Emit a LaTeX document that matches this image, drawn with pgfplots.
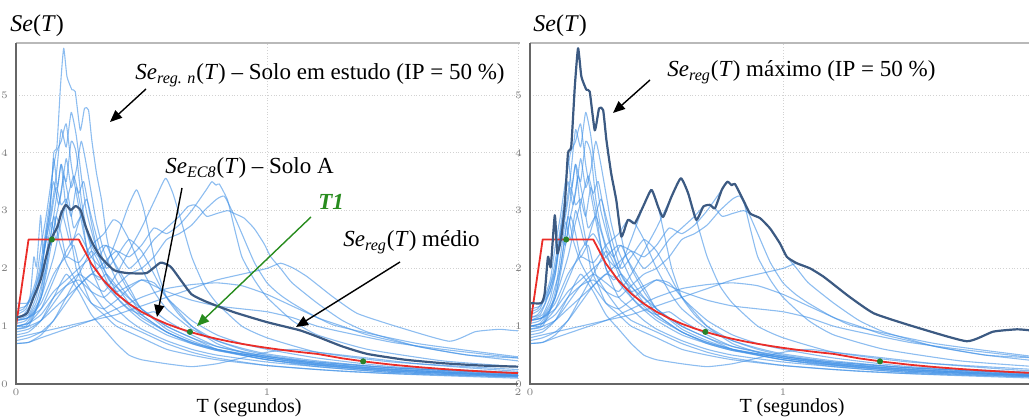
\documentclass[border=0pt]{standalone}
\usepackage{fontspec}
\setmainfont{Liberation Serif}
\usepackage{pgfplots}
\pgfplotsset{compat=1.18}
\usetikzlibrary{arrows.meta}

\definecolor{lb}{RGB}{65,145,230}
\definecolor{db}{RGB}{60,90,130}
\definecolor{rd}{RGB}{235,45,40}
\definecolor{gr}{RGB}{40,130,40}
\definecolor{tg}{RGB}{40,140,30}

\pgfplotsset{
  rec/.style={lb, opacity=0.6, line width=0.55pt, line join=round, smooth, tension=0.3},
  panel/.style={scale only axis, height=170.5pt, xmin=0, ymin=0, ymax=5.9,
    xtick={0,1,2}, ytick={0,1,2,3,4,5},
    grid=major, grid style={gray!35, densely dotted, line width=0.4pt},
    axis line style={draw=none}, tick style={draw=none},
    tick label style={font=\fontsize{3.2}{3.5}\selectfont, text=gray},
    yticklabel style={xshift=-0.5pt}, xticklabel style={yshift=1.2pt},
    clip mode=individual, anchor=south west}
}

\newcommand{\records}{%
\addplot[rec] coordinates {(0,1.40) (0.045,1.40) (0.058,1.57) (0.071,2.20) (0.082,2.03) (0.098,2.92) (0.108,2.26) (0.124,2.55) (0.14,2.4) (0.16,2.9) (0.18,2.6) (0.2,2.2) (0.23,2.4) (0.26,1.9) (0.3,1.6) (0.35,1.3) (0.4,1.1) (0.5,0.9) (0.6,0.7) (0.7,0.55) (0.8,0.45) (1.0,0.32) (1.2,0.25) (1.5,0.18) (2.0,0.12)};
\addplot[rec] coordinates {(0,1.1) (0.05,1.2) (0.08,1.5) (0.1,1.9) (0.12,2.6) (0.137,3.07) (0.15,3.99) (0.163,4.11) (0.177,5.14) (0.19,5.81) (0.203,5.32) (0.223,5.09) (0.236,5.06) (0.256,4.39) (0.273,4.77) (0.289,4.74) (0.302,4.22) (0.321,3.64) (0.341,3.18) (0.361,2.55) (0.38,2.2) (0.42,1.9) (0.46,1.6) (0.5,1.3) (0.6,1.0) (0.7,0.8) (0.8,0.6) (0.9,0.5) (1.0,0.42) (1.2,0.3) (1.5,0.2) (2.0,0.13)};
\addplot[rec] coordinates {(0,1.0) (0.05,1.05) (0.1,1.3) (0.15,1.8) (0.2,2.3) (0.25,2.6) (0.3,2.2) (0.35,2.0) (0.4,2.5) (0.447,3.07) (0.48,3.36) (0.506,3.07) (0.53,2.6) (0.56,2.0) (0.6,1.5) (0.65,1.2) (0.7,1.0) (0.8,0.75) (0.9,0.6) (1.0,0.5) (1.2,0.38) (1.5,0.28) (2.0,0.18)};
\addplot[rec] coordinates {(0,0.9) (0.05,0.95) (0.1,1.1) (0.15,1.4) (0.2,1.7) (0.25,1.9) (0.3,1.75) (0.35,1.6) (0.4,1.9) (0.45,2.3) (0.5,2.7) (0.559,3.24) (0.596,3.56) (0.625,3.30) (0.657,2.84) (0.7,2.2) (0.75,1.7) (0.8,1.4) (0.9,1.0) (1.0,0.8) (1.2,0.55) (1.5,0.38) (2.0,0.25)};
\addplot[rec] coordinates {(0,0.95) (0.05,1.0) (0.1,1.1) (0.15,1.3) (0.2,1.5) (0.25,1.7) (0.3,1.9) (0.35,2.1) (0.4,2.3) (0.45,2.2) (0.5,2.4) (0.55,2.7) (0.6,2.6) (0.65,2.75) (0.7,3.0) (0.758,3.36) (0.78,3.50) (0.797,3.44) (0.81,3.46) (0.843,3.18) (0.87,2.7) (0.9,2.2) (0.95,1.8) (1.0,1.5) (1.1,1.1) (1.2,0.85) (1.4,0.6) (1.7,0.4) (2.0,0.3)};
\addplot[rec] coordinates {(0,1.1) (0.05,1.15) (0.1,1.3) (0.15,1.6) (0.2,1.8) (0.25,2.0) (0.3,2.2) (0.35,2.4) (0.4,2.3) (0.45,2.0) (0.5,2.2) (0.55,2.5) (0.6,2.7) (0.65,2.9) (0.685,3.07) (0.711,3.10) (0.731,3.04) (0.76,2.9) (0.8,2.95) (0.843,3.0) (0.87,2.95) (0.909,2.87) (0.949,2.69) (0.988,2.43) (1.015,2.20) (1.054,2.0) (1.1,1.75) (1.2,1.4) (1.3,1.1) (1.4,0.9) (1.6,0.65) (1.8,0.5) (2.0,0.45)};
\addplot[rec] coordinates {(0,0.8) (0.05,0.85) (0.1,0.9) (0.2,1.0) (0.3,1.1) (0.4,1.2) (0.5,1.35) (0.6,1.5) (0.7,1.65) (0.8,1.8) (0.9,1.9) (1.0,2.0) (1.054,2.09) (1.107,2.0) (1.159,1.86) (1.212,1.68) (1.265,1.5) (1.36,1.22) (1.52,0.99) (1.726,0.74) (1.83,0.905) (1.924,0.946) (1.97,0.93) (2.0,0.92)};
\addplot[rec] coordinates {(0,1.0) (0.05,1.05) (0.1,1.2) (0.15,1.5) (0.2,1.7) (0.25,1.8) (0.3,1.6) (0.35,1.5) (0.4,1.7) (0.45,1.9) (0.5,2.0) (0.55,2.2) (0.6,2.5) (0.65,2.6) (0.7,2.75) (0.75,3.0) (0.8,3.2) (0.83,3.25) (0.86,3.0) (0.9,2.6) (0.95,2.1) (1.0,1.75) (1.05,1.55) (1.1,1.4) (1.2,1.15) (1.3,1.0) (1.4,0.85) (1.6,0.65) (1.8,0.5) (2.0,0.4)};
\addplot[rec] coordinates {(0,0.7) (0.05,0.72) (0.1,0.8) (0.2,0.95) (0.3,1.1) (0.4,1.3) (0.5,1.5) (0.6,1.65) (0.7,1.72) (0.8,1.75) (0.9,1.7) (1.0,1.55) (1.1,1.35) (1.2,1.15) (1.265,1.02) (1.4,0.88) (1.6,0.7) (1.8,0.58) (2.0,0.47)};
\addplot[rec] coordinates {(0,0.85) (0.05,0.9) (0.1,1.1) (0.15,1.5) (0.2,1.9) (0.25,1.6) (0.3,1.2) (0.35,0.95) (0.4,0.7) (0.45,0.5) (0.5,0.42) (0.6,0.35) (0.7,0.3) (0.8,0.35) (0.9,0.45) (1.0,0.55) (1.1,0.6) (1.2,0.55) (1.4,0.45) (1.6,0.35) (1.8,0.28) (2.0,0.22)};
\addplot[rec] coordinates {(0,1.2) (0.04,1.3) (0.08,1.8) (0.1,2.4) (0.12,2.9) (0.14,3.5) (0.16,4.0) (0.18,4.2) (0.2,4.5) (0.22,3.8) (0.24,3.3) (0.27,2.6) (0.3,2.0) (0.35,1.5) (0.4,1.3) (0.45,1.1) (0.5,0.95) (0.6,0.75) (0.7,0.6) (0.8,0.5) (1.0,0.38) (1.2,0.3) (1.5,0.2) (2.0,0.12)};
\addplot[rec] coordinates {(0,1.05) (0.04,1.1) (0.08,1.4) (0.1,1.7) (0.12,2.0) (0.14,2.6) (0.16,3.2) (0.18,3.8) (0.2,3.5) (0.22,4.2) (0.24,4.0) (0.26,3.2) (0.28,2.7) (0.3,2.4) (0.33,2.2) (0.36,2.4) (0.4,2.0) (0.45,1.6) (0.5,1.3) (0.6,0.95) (0.7,0.75) (0.8,0.6) (1.0,0.42) (1.2,0.32) (1.5,0.22) (2.0,0.14)};
\addplot[rec] coordinates {(0,1.15) (0.03,1.2) (0.06,1.4) (0.09,1.9) (0.11,2.4) (0.13,3.0) (0.15,3.5) (0.17,3.1) (0.19,3.6) (0.21,3.2) (0.23,2.7) (0.26,2.9) (0.29,2.5) (0.32,2.0) (0.36,1.7) (0.4,1.5) (0.45,1.3) (0.5,1.2) (0.55,1.25) (0.6,1.1) (0.7,0.85) (0.8,0.65) (0.9,0.55) (1.0,0.48) (1.2,0.35) (1.5,0.25) (2.0,0.15)};
\addplot[rec] coordinates {(0,1.0) (0.04,1.05) (0.08,1.3) (0.1,1.6) (0.12,2.2) (0.14,2.8) (0.16,2.5) (0.18,3.0) (0.2,2.7) (0.22,2.4) (0.25,2.8) (0.28,3.2) (0.3,2.9) (0.33,2.4) (0.36,2.0) (0.4,2.2) (0.45,2.5) (0.5,2.3) (0.55,1.9) (0.6,1.5) (0.7,1.1) (0.8,0.85) (0.9,0.7) (1.0,0.6) (1.2,0.45) (1.5,0.3) (2.0,0.2)};
\addplot[rec] coordinates {(0,1.25) (0.03,1.3) (0.06,1.5) (0.08,1.7) (0.1,2.0) (0.12,2.6) (0.135,3.0) (0.15,3.9) (0.165,3.4) (0.18,3.8) (0.2,3.0) (0.22,2.5) (0.24,2.0) (0.27,1.7) (0.3,1.4) (0.35,1.2) (0.4,1.0) (0.5,0.8) (0.6,0.6) (0.7,0.5) (0.8,0.42) (1.0,0.32) (1.3,0.22) (1.6,0.16) (2.0,0.1)};
\addplot[rec] coordinates {(0,0.75) (0.05,0.8) (0.1,0.9) (0.15,1.1) (0.2,1.4) (0.25,1.7) (0.3,1.9) (0.35,1.8) (0.4,1.6) (0.45,1.7) (0.5,1.8) (0.55,1.7) (0.6,1.6) (0.7,1.45) (0.8,1.35) (0.9,1.3) (1.0,1.25) (1.1,1.15) (1.2,1.0) (1.3,0.9) (1.5,0.72) (1.7,0.6) (2.0,0.45)};
\addplot[rec] coordinates {(0,1.1) (0.05,1.15) (0.1,1.4) (0.15,1.9) (0.2,2.2) (0.25,2.1) (0.3,2.4) (0.35,2.6) (0.387,2.84) (0.414,2.78) (0.45,2.5) (0.5,2.0) (0.55,1.6) (0.6,1.3) (0.7,0.95) (0.8,0.75) (0.9,0.62) (1.0,0.52) (1.2,0.4) (1.5,0.28) (2.0,0.17)};
\addplot[rec] coordinates {(0,0.95) (0.05,1.0) (0.1,1.5) (0.13,2.3) (0.15,2.9) (0.17,2.5) (0.2,2.1) (0.25,1.7) (0.3,1.4) (0.35,1.3) (0.4,1.45) (0.45,1.65) (0.5,1.8) (0.55,1.75) (0.6,1.5) (0.7,1.0) (0.8,0.7) (0.9,0.55) (1.0,0.45) (1.2,0.33) (1.5,0.22) (2.0,0.14)};
\addplot[rec] coordinates {(0,1.1) (0.05,1.15) (0.1,1.5) (0.15,2.2) (0.18,2.8) (0.21,3.3) (0.23,3.6) (0.25,3.3) (0.27,3.5) (0.3,2.8) (0.33,2.2) (0.37,1.8) (0.42,1.6) (0.47,1.4) (0.5,1.2) (0.6,0.9) (0.7,0.72) (0.8,0.6) (1.0,0.45) (1.2,0.36) (1.5,0.26) (2.0,0.16)};
\addplot[rec] coordinates {(0,0.7) (0.05,0.72) (0.1,0.85) (0.15,1.1) (0.2,1.5) (0.25,1.9) (0.3,2.3) (0.33,2.1) (0.37,1.7) (0.42,1.4) (0.5,1.1) (0.6,0.85) (0.7,0.7) (0.8,0.58) (0.9,0.52) (1.0,0.47) (1.2,0.38) (1.5,0.28) (2.0,0.18)};
\addplot[rec] coordinates {(0,1.3) (0.04,1.35) (0.08,1.6) (0.1,2.0) (0.12,2.5) (0.14,3.0) (0.16,3.6) (0.18,4.4) (0.2,4.1) (0.22,4.7) (0.24,4.3) (0.26,3.6) (0.28,3.0) (0.31,2.5) (0.35,2.0) (0.4,1.6) (0.45,1.35) (0.5,1.15) (0.6,0.9) (0.7,0.7) (0.8,0.58) (1.0,0.42) (1.2,0.33) (1.5,0.23) (2.0,0.14)};
\addplot[rec] coordinates {(0,1.0) (0.04,1.0) (0.07,1.2) (0.1,1.5) (0.12,1.9) (0.14,2.4) (0.16,2.9) (0.18,3.3) (0.2,3.9) (0.22,3.4) (0.24,3.7) (0.26,4.2) (0.28,3.8) (0.3,3.3) (0.32,2.8) (0.35,2.3) (0.4,1.8) (0.45,1.5) (0.5,1.3) (0.6,1.0) (0.7,0.8) (0.8,0.65) (1.0,0.48) (1.2,0.36) (1.5,0.25) (2.0,0.15)};
\addplot[rec] coordinates {(0,1.15) (0.04,1.2) (0.07,1.5) (0.1,1.9) (0.12,2.5) (0.14,2.9) (0.16,3.4) (0.18,3.1) (0.2,3.2) (0.22,2.9) (0.24,3.4) (0.26,3.0) (0.28,2.4) (0.3,2.0) (0.33,1.8) (0.36,1.9) (0.4,1.7) (0.45,1.4) (0.5,1.2) (0.6,0.9) (0.7,0.72) (0.8,0.6) (1.0,0.45) (1.2,0.34) (1.5,0.24) (2.0,0.15)};
}

\newcommand{\ecspec}{%
\addplot[rd, line width=0.9pt, line join=round] coordinates {(0,1.0) (0.05,2.5) (0.25,2.5) (0.3,2.0833) (0.35,1.7857) (0.4,1.5625) (0.45,1.3889) (0.5,1.25) (0.55,1.1364) (0.6,1.0417) (0.65,0.9615) (0.7,0.8929) (0.75,0.8333) (0.8,0.7813) (0.85,0.7353) (0.9,0.6944) (0.95,0.6579) (1.0,0.625) (1.05,0.5952) (1.1,0.5682) (1.15,0.5435) (1.2,0.5208) (1.3,0.4438) (1.4,0.3827) (1.5,0.3333) (1.6,0.2930) (1.7,0.2595) (1.8,0.2315) (1.9,0.2078) (2.0,0.1875)};
}
\newcommand{\greendots}{%
\addplot[only marks, mark=*, mark size=1.3pt, gr] coordinates {(0.143,2.5) (0.693,0.902) (1.383,0.392)};
}

\begin{document}
\begin{tikzpicture}
\useasboundingbox (0pt,0pt) rectangle (514.5pt,208.5pt);

% left panel
\begin{axis}[panel, at={(8pt,16.5pt)}, width=251pt, xmax=2]
\records
\ecspec
\addplot[db, line width=1.1pt, line join=round, smooth, tension=0.3] coordinates {(0,1.15) (0.02,1.17) (0.045,1.23) (0.07,1.5) (0.098,1.80) (0.12,2.2) (0.138,2.49) (0.165,2.72) (0.18,2.95) (0.198,3.10) (0.218,3.01) (0.238,3.08) (0.258,3.0) (0.278,2.72) (0.304,2.44) (0.337,2.20) (0.39,1.97) (0.442,1.92) (0.52,1.92) (0.576,2.10) (0.616,2.03) (0.656,1.80) (0.7,1.55) (0.76,1.42) (0.87,1.24) (1.0,1.07) (1.13,0.93) (1.2,0.82) (1.3,0.65) (1.4,0.52) (1.55,0.42) (1.7,0.36) (1.85,0.32) (2.0,0.30)};
\greendots
\end{axis}

% right panel
\begin{axis}[panel, at={(265pt,16.5pt)}, width=249.5pt, xmax=1.972]
\records
\ecspec
\addplot[db, line width=1.1pt, line join=round, smooth, tension=0.3] coordinates {(0,1.40) (0.045,1.40) (0.058,1.57) (0.071,2.20) (0.082,2.03) (0.098,2.92) (0.108,2.26) (0.124,2.55) (0.137,3.07) (0.15,3.99) (0.163,4.11) (0.177,5.14) (0.19,5.81) (0.203,5.32) (0.223,5.09) (0.236,5.06) (0.256,4.39) (0.273,4.77) (0.289,4.74) (0.302,4.22) (0.321,3.64) (0.341,3.18) (0.361,2.55) (0.387,2.84) (0.414,2.78) (0.447,3.07) (0.48,3.36) (0.506,3.07) (0.526,2.89) (0.559,3.24) (0.596,3.56) (0.625,3.30) (0.657,2.84) (0.685,3.07) (0.711,3.10) (0.731,3.04) (0.758,3.36) (0.78,3.50) (0.797,3.44) (0.81,3.46) (0.843,3.18) (0.87,2.95) (0.909,2.87) (0.949,2.69) (0.988,2.43) (1.015,2.20) (1.054,2.09) (1.107,2.00) (1.159,1.86) (1.212,1.68) (1.265,1.50) (1.36,1.22) (1.52,0.99) (1.726,0.74) (1.83,0.905) (1.924,0.946) (1.972,0.93)};
\greendots
\end{axis}

\begin{scope}[x=0.5pt, y=0.5pt]
% frames
\draw[gray!55, line width=0.8pt] (16,374) -- (520,374);
\draw[gray!55, line width=0.8pt] (530,374) -- (1029,374);
\draw[black!60, line width=1pt] (16,374) -- (16,33) -- (518,33);
\draw[black!60, line width=1pt] (530,374) -- (530,33) -- (1029,33);

% titles
\node[anchor=base west, inner sep=0pt, font=\fontsize{12}{14}\selectfont] at (10,385) {\textit{Se}(\textit{T})};
\node[anchor=base west, inner sep=0pt, font=\fontsize{12}{14}\selectfont] at (533,385) {\textit{Se}(\textit{T})};
\node[anchor=base, inner sep=0pt, font=\fontsize{10}{12}\selectfont] at (249,4) {T (segundos)};
\node[anchor=base, inner sep=0pt, font=\fontsize{10}{12}\selectfont] at (792,4) {T (segundos)};

% annotations left
\node[anchor=base west, inner sep=0pt, font=\fontsize{11.5}{13}\selectfont] at (135,337) {\textit{Se\textsubscript{reg. n}}(\textit{T}) – Solo em estudo (IP = 50 \%)};
\draw[black, line width=0.7pt, -{Triangle[length=6pt, width=5pt]}] (146,328) -- (110,295);
\node[anchor=base west, inner sep=0pt, font=\fontsize{11.5}{13}\selectfont] at (165,243) {\textit{Se\textsubscript{EC8}}(\textit{T}) – Solo A};
\draw[black, line width=0.7pt, -{Triangle[length=6pt, width=5pt]}] (182,229) -- (157,100);
\node[anchor=base west, inner sep=0pt, font=\fontsize{11.5}{13}\selectfont, text=tg] at (318,207) {\textbf{\textit{T1}}};
\draw[tg, line width=0.7pt, -{Triangle[length=6pt, width=5pt]}] (311,200) -- (197,91);
\node[anchor=base west, inner sep=0pt, font=\fontsize{11.5}{13}\selectfont] at (343,170) {\textit{Se\textsubscript{reg}}(\textit{T}) médio};
\draw[black, line width=0.7pt, -{Triangle[length=6pt, width=5pt]}] (400,155) -- (296,90);

% annotations right
\node[anchor=base west, inner sep=0pt, font=\fontsize{11.5}{13}\selectfont] at (667,340) {\textit{Se\textsubscript{reg}}(\textit{T}) máximo (IP = 50 \%)};
\draw[black, line width=0.7pt, -{Triangle[length=6pt, width=5pt]}] (650,337) -- (613,304);
\end{scope}
\end{tikzpicture}
\end{document}
